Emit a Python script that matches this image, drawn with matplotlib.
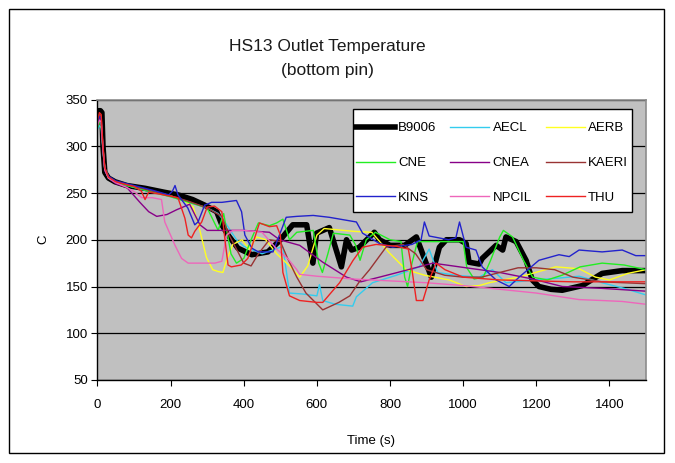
import matplotlib
matplotlib.use("Agg")
import matplotlib.pyplot as plt
from matplotlib.patches import Rectangle

plt.rcParams['font.family'] = ['Liberation Sans', 'DejaVu Sans']

# ---------------- data ----------------
b9006_t = [0, 3, 8, 12, 15, 20, 30, 48, 80, 130, 180, 220, 260, 293, 326, 340, 357, 384, 422, 466, 498, 534, 572, 589, 599, 634, 667, 681, 695, 716, 757, 771, 800, 840, 872, 913, 935, 954, 990, 1008, 1016, 1044, 1052, 1090, 1108, 1117, 1145, 1172, 1189, 1207, 1240, 1271, 1326, 1380, 1435, 1500]
b9006_y = [328, 338, 338, 336, 300, 272, 266, 262, 258, 255, 251, 248, 243, 237, 230, 216, 205, 191, 184, 187, 199, 216, 216, 175, 207, 213, 171, 200, 189, 192, 208, 200, 194, 194, 203, 160, 192, 200, 200, 196, 176, 174, 180, 194, 189, 203, 198, 178, 157, 150, 147, 146, 151, 164, 167, 167]

aecl_t = [0, 5, 10, 15, 20, 30, 50, 100, 150, 200, 250, 300, 330, 350, 380, 400, 450, 500, 507, 525, 560, 600, 607, 616, 650, 698, 708, 752, 817, 880, 907, 930, 980, 1044, 1080, 1117, 1198, 1262, 1317, 1380, 1440, 1500]
aecl_y = [318, 322, 320, 295, 275, 266, 261, 256, 251, 246, 240, 234, 228, 218, 200, 193, 185, 192, 192, 143, 142, 140, 152, 135, 131, 129, 139, 154, 162, 171, 190, 165, 162, 160, 168, 154, 157, 159, 161, 154, 148, 141]

aerb_t = [0, 5, 10, 15, 20, 30, 50, 100, 150, 200, 240, 262, 280, 298, 315, 330, 343, 353, 370, 395, 415, 435, 460, 490, 525, 553, 575, 600, 620, 700, 750, 798, 844, 895, 962, 1008, 1044, 1071, 1108, 1153, 1198, 1253, 1317, 1362, 1400, 1450, 1500]
aerb_y = [322, 328, 326, 298, 276, 267, 262, 257, 252, 247, 241, 235, 210, 181, 168, 166, 165, 178, 195, 200, 190, 203, 200, 185, 172, 160, 172, 205, 212, 209, 208, 186, 168, 162, 157, 150, 151, 154, 157, 160, 165, 171, 169, 160, 157, 164, 168]

cne_t = [0, 5, 10, 15, 20, 30, 50, 100, 150, 200, 250, 300, 330, 345, 365, 380, 400, 420, 440, 470, 490, 507, 525, 545, 590, 605, 615, 630, 645, 690, 705, 718, 735, 760, 800, 830, 840, 848, 860, 875, 1000, 1010, 1030, 1055, 1075, 1100, 1110, 1135, 1165, 1190, 1230, 1270, 1320, 1380, 1440, 1500]
cne_y = [320, 326, 324, 297, 275, 266, 261, 256, 251, 246, 240, 234, 210, 228, 185, 175, 180, 200, 218, 215, 218, 222, 200, 208, 210, 175, 165, 185, 207, 205, 195, 178, 200, 208, 200, 198, 160, 150, 175, 198, 198, 170, 158, 160, 178, 203, 210, 203, 178, 160, 157, 162, 171, 175, 173, 168]

cnea_t = [0, 5, 10, 15, 20, 30, 50, 80, 116, 140, 162, 190, 216, 252, 280, 300, 370, 400, 470, 498, 553, 616, 681, 720, 771, 840, 917, 1008, 1100, 1190, 1271, 1380, 1500]
cnea_y = [325, 330, 328, 296, 274, 266, 260, 256, 240, 230, 225, 227, 232, 238, 216, 210, 210, 210, 208, 200, 194, 176, 160, 155, 160, 167, 175, 170, 165, 158, 150, 148, 145]

kaeri_t = [0, 5, 10, 15, 20, 30, 50, 100, 150, 200, 250, 300, 340, 360, 380, 400, 420, 440, 470, 500, 520, 545, 570, 616, 660, 690, 716, 744, 789, 835, 870, 900, 950, 1000, 1050, 1100, 1150, 1200, 1250, 1300, 1380, 1440, 1500]
kaeri_y = [326, 334, 332, 300, 277, 267, 262, 257, 252, 247, 241, 234, 225, 205, 190, 175, 172, 185, 200, 198, 180, 160, 143, 125, 133, 140, 155, 168, 192, 195, 185, 168, 162, 160, 160, 165, 170, 170, 168, 160, 155, 154, 153]

kins_t = [0, 5, 10, 15, 20, 30, 50, 100, 150, 195, 205, 212, 220, 247, 266, 275, 293, 312, 340, 380, 394, 403, 422, 440, 480, 516, 545, 590, 634, 708, 725, 771, 807, 860, 885, 894, 907, 960, 980, 990, 1008, 1035, 1052, 1090, 1126, 1153, 1207, 1262, 1290, 1317, 1380, 1435, 1472, 1500]
kins_y = [325, 332, 330, 298, 276, 268, 263, 258, 253, 248, 252, 258, 248, 234, 216, 219, 237, 240, 240, 242, 230, 205, 191, 187, 187, 224, 225, 226, 224, 219, 207, 196, 192, 195, 200, 219, 204, 200, 202, 219, 192, 189, 171, 157, 150, 160, 178, 184, 182, 189, 187, 189, 183, 183]

npcil_t = [0, 5, 10, 15, 20, 30, 50, 80, 102, 121, 150, 175, 184, 212, 230, 248, 280, 321, 340, 353, 370, 400, 450, 490, 520, 545, 553, 600, 700, 800, 900, 1000, 1100, 1200, 1317, 1380, 1435, 1500]
npcil_y = [322, 328, 326, 296, 275, 266, 261, 256, 251, 245, 245, 243, 219, 194, 180, 175, 175, 175, 177, 205, 210, 210, 208, 190, 180, 168, 163, 161, 158, 156, 154, 151, 147, 143, 136, 135, 134, 131]

thu_t = [0, 5, 10, 15, 20, 30, 50, 100, 120, 130, 140, 180, 220, 239, 248, 257, 266, 285, 300, 320, 340, 348, 357, 366, 393, 411, 420, 443, 470, 490, 500, 507, 525, 553, 600, 616, 662, 699, 725, 762, 817, 850, 860, 872, 890, 907, 926, 950, 1000, 1100, 1200, 1300, 1400, 1500]
thu_y = [328, 336, 334, 300, 277, 267, 262, 257, 252, 243, 251, 248, 245, 223, 205, 202, 209, 219, 235, 236, 230, 202, 173, 171, 173, 180, 190, 218, 214, 215, 205, 165, 140, 135, 133, 133, 154, 178, 192, 195, 193, 190, 168, 135, 135, 157, 175, 168, 160, 157, 156, 155, 155, 155]

names = ["B9006", "AECL", "AERB", "CNE", "CNEA", "KAERI", "KINS", "NPCIL", "THU"]
x_ticks = [0, 200, 400, 600, 800, 1000, 1200, 1400]
y_ticks = [50, 100, 150, 200, 250, 300, 350]

series = [
    (b9006_t, b9006_y, "#000000", 4.0),
    (aecl_t, aecl_y, "#33CCEE", 1.0),
    (aerb_t, aerb_y, "#FFFF22", 1.0),
    (cne_t, cne_y, "#22EE22", 1.0),
    (cnea_t, cnea_y, "#880088", 1.0),
    (kaeri_t, kaeri_y, "#993333", 1.0),
    (kins_t, kins_y, "#2222CC", 1.0),
    (npcil_t, npcil_y, "#EE66BB", 1.0),
    (thu_t, thu_y, "#EE2222", 1.0),
]

# ---------------- figure ----------------
W, H = 675, 463
fig = plt.figure(figsize=(W / 100, H / 100), dpi=100)
fig.patch.set_facecolor("white")

x0, x1 = 97.5, 646.0
y0, y1 = 99.5, 380.0
ax = fig.add_axes([x0 / W, 1 - y1 / H, (x1 - x0) / W, (y1 - y0) / H])
ax.set_facecolor("#C0C0C0")

handles = []
for (t, y, c, lw), n in zip(series, names):
    h, = ax.plot(t, y, color=c, lw=lw, label=n, solid_joinstyle="round")
    handles.append(h)

ax.set_xlim(0, 1500)
ax.set_ylim(50, 350)
ax.set_xticks(x_ticks)
ax.set_yticks(y_ticks)
ax.yaxis.grid(True, color="black", lw=0.9)
ax.set_axisbelow(True)
ax.tick_params(direction="out", length=4, width=0.8, labelsize=9.5, colors="black", pad=3)
ax.tick_params(axis="x", pad=10)
for s in ["top", "right"]:
    ax.spines[s].set_color("#8C8C8C")
    ax.spines[s].set_linewidth(1.2)
for s in ["left", "bottom"]:
    ax.spines[s].set_color("black")
    ax.spines[s].set_linewidth(1.0)

fig.text(371 / W, 1 - 441 / H, "Time (s)", fontsize=9.5, ha="center", va="center")
fig.text(43 / W, 1 - 239 / H, "C", rotation=90, fontsize=9.5, ha="center", va="center")

fig.text(327 / W, 1 - 46.5 / H, "HS13 Outlet Temperature", fontsize=12.5, ha="center", va="center", color="#1a1a1a")
fig.text(327 / W, 1 - 71 / H, "(bottom pin)", fontsize=12.5, ha="center", va="center", color="#1a1a1a")

# legend box
lx0, lx1, ly0, ly1 = 353, 632, 109, 212
def fx(px):
    return (px - x0) / (x1 - x0)
def fy(py):
    return 1 - (py - y0) / (y1 - y0)
ax.add_patch(Rectangle((fx(lx0), fy(ly1)), fx(lx1) - fx(lx0), fy(ly0) - fy(ly1),
                       transform=ax.transAxes, facecolor="white", edgecolor="black",
                       lw=1.0, zorder=5))
order = [0, 3, 6, 1, 4, 7, 2, 5, 8]
leg = ax.legend([handles[i] for i in order], [names[i] for i in order],
                ncol=3, loc="upper left", bbox_to_anchor=(fx(356), fy(122)),
                frameon=False, fontsize=9.5, handlelength=2.95, handletextpad=0.25,
                columnspacing=1.05, labelspacing=1.72, borderpad=0, borderaxespad=0)
leg.set_zorder(6)

# outer chart border
fig.patches.append(Rectangle((9 / W, 1 - 453 / H), (664 - 9) / W, (453 - 9) / H,
                             transform=fig.transFigure, fill=False, edgecolor="black", lw=1.0))

fig.savefig("out.png", dpi=100)
